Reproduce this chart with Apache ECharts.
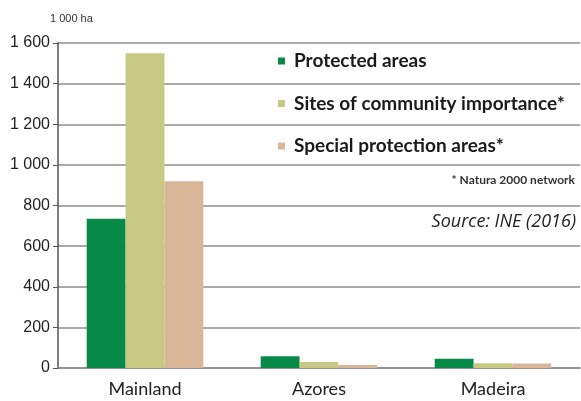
<!DOCTYPE html>
<html><head><meta charset="utf-8">
<script src="https://cdn.jsdelivr.net/npm/echarts@6/dist/echarts.min.js"></script>
<style>html,body{margin:0;padding:0;background:#fff}#c{width:581px;height:401px}</style>
</head><body><div id="c"></div>
<script>
const categories = ['Mainland', 'Azores', 'Madeira'];
const protectedAreas = [735, 58, 46];
const sitesCommunity = [1550, 30, 24];
const specialProtection = [920, 15, 22];
const yTickValues = [0, 200, 400, 600, 800, 1000, 1200, 1400, 1600];
const yTickLabels = ['0', '200', '400', '600', '800', '1 000', '1 200', '1 400', '1 600'];
const seriesNames = ['Protected areas', 'Sites of community importance*', 'Special protection areas*'];

const chart = echarts.init(document.getElementById('c'));
const colors = ['#078a47', '#c7c982', '#d9b698'];
chart.setOption({
  animation: false,
  grid: {left: 58, right: 1, top: 43, bottom: 33},
  legend: {
    orient: 'vertical', left: 278, top: 51, itemGap: 22.5, padding: 0,
    itemWidth: 7, itemHeight: 7, icon: 'rect',
    textStyle: {fontFamily: 'Lato', fontWeight: 'bold', fontSize: 19, lineHeight: 20, color: '#1a1a1a', padding: [0, 0, 0, 4]},
    data: seriesNames
  },
  xAxis: {
    type: 'category', data: categories,
    axisLine: {lineStyle: {color: '#8c8c8c', width: 1.5}},
    axisTick: {show: false},
    axisLabel: {fontFamily: 'Lato', fontSize: 18, color: '#222', margin: 12}
  },
  yAxis: {
    type: 'value', min: 0, max: 1600, interval: 200,
    axisLine: {show: true, lineStyle: {color: '#555', width: 1.5}},
    axisTick: {show: true, length: 5, lineStyle: {color: '#555'}},
    splitLine: {lineStyle: {color: '#8c8c8c', width: 1.5}},
    axisLabel: {fontFamily: 'Liberation Sans', fontSize: 16, color: '#222', margin: 8,
      formatter: v => yTickLabels[yTickValues.indexOf(v)]}
  },
  graphic: [
    {type: 'text', left: 50, top: 13, style: {text: '1 000 ha', fontFamily: 'Liberation Sans', fontSize: 11, fill: '#333'}},
    {type: 'text', right: 6, top: 174, style: {text: '* Natura 2000 network', fontFamily: 'Lato', fontWeight: 'bold', fontSize: 12, fill: '#333'}},
    {type: 'text', right: 5, top: 213, style: {text: 'Source: INE (2016)', fontFamily: 'Open Sans', fontStyle: 'italic', fontSize: 18, fill: '#222'}}
  ],
  series: [
    {name: seriesNames[0], type: 'bar', data: protectedAreas, itemStyle: {color: colors[0]}, barGap: '0%', barCategoryGap: '33%'},
    {name: seriesNames[1], type: 'bar', data: sitesCommunity, itemStyle: {color: colors[1]}},
    {name: seriesNames[2], type: 'bar', data: specialProtection, itemStyle: {color: colors[2]}}
  ]
});
</script></body></html>
